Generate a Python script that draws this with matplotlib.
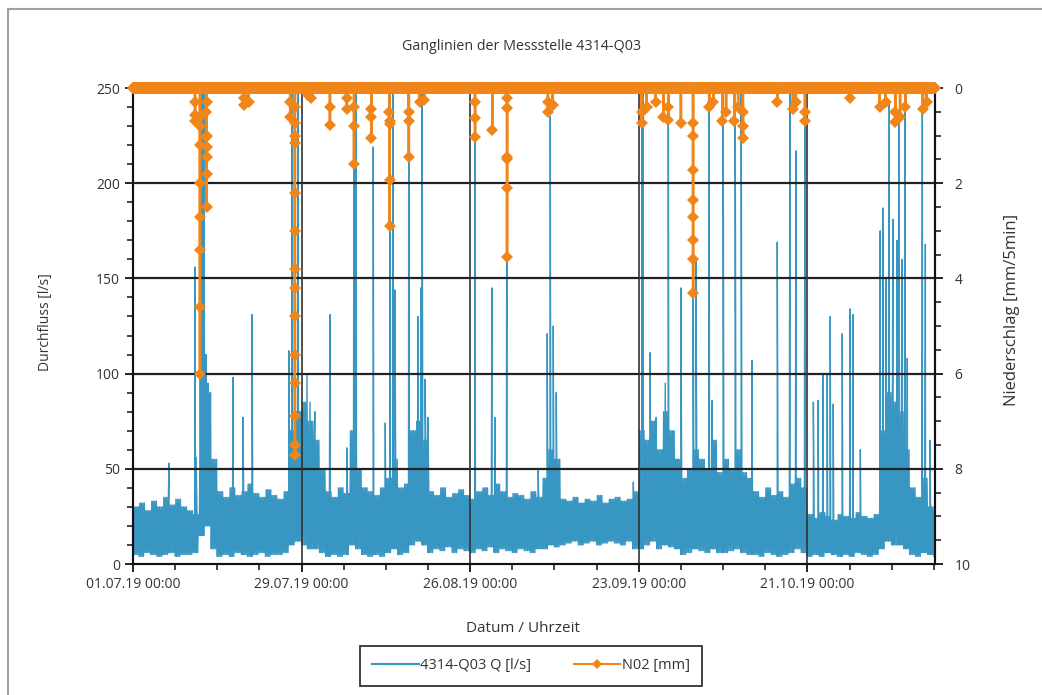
import numpy as np
import matplotlib
matplotlib.use("Agg")
import matplotlib.pyplot as plt
from matplotlib.patches import Rectangle
from matplotlib.ticker import MultipleLocator

plt.rcParams['font.family'] = ['Open Sans', 'DejaVu Sans']

# x axis in days since 01.07.19 00:00
x_ticks = [0, 28, 56, 84, 112]
x_tick_labels = ["01.07.19 00:00", "29.07.19 00:00", "26.08.19 00:00",
                 "23.09.19 00:00", "21.10.19 00:00"]
x_max = 133.2

# daily lower / upper edge of the flow band [l/s], one value per day 0..133
q_low = [5, 4, 6, 5, 4, 5, 6, 4, 5, 5, 6,
         15, 20, 8,
         4, 5, 4, 6, 5, 4, 5, 6, 4, 5, 5, 6,
         10, 12,
         10, 8, 8, 6,
         4, 5, 4, 5,
         10,
         8, 5, 4, 5, 4,
         6, 8,
         5, 6,
         10, 12, 10,
         6, 8, 7, 9, 6, 8, 7, 6, 8, 7, 9, 6, 8, 7, 6, 8, 7, 6, 8,
         8, 10, 9,
         10, 11, 12, 10, 11, 12, 10, 11, 12, 11, 10, 12, 8,
         8, 10, 12, 8, 10, 9, 8,
         5, 6, 8, 7, 6, 8, 6,
         6, 7, 8, 6, 5,
         5, 4, 6, 5, 4, 5, 6, 8, 6,
         4, 5, 4, 6, 5, 4, 5, 4, 6, 5, 4, 5,
         8, 12, 10, 10, 8,
         5, 4, 6, 5, 4]
q_high = [30, 32, 28, 33, 30, 35, 31, 34, 30, 28, 26,
          60, 90, 55,
          38, 35, 40, 36, 38, 42, 37, 35, 39, 36, 34, 38,
          70, 80,
          85, 75, 65, 50,
          38, 35, 40, 37,
          70,
          50, 40, 38, 36, 40,
          45, 55,
          40, 42,
          70, 75, 65,
          38, 36, 40, 35, 37, 39, 36, 34, 38, 40, 36, 42, 38, 35, 37, 36, 34, 38, 35,
          45, 60, 55,
          34, 33, 35, 32, 34, 33, 36, 32, 34, 35, 33, 34, 38,
          70, 65, 75, 60, 80, 70, 55,
          45, 50, 60, 55, 50, 65, 48,
          55, 50, 60, 48, 45,
          38, 35, 40, 36, 38, 35, 42, 45, 40,
          26, 24, 27, 25, 23, 26, 25, 24, 27, 25, 24, 26,
          70, 90, 85, 80, 60,
          40, 35, 45, 30, 28]

# single flow peaks [day, l/s]
spike_day = [5.98, 10.3, 10.5, 11.13, 11.46, 11.8, 12.13, 12.46, 12.8, 16.6,
             18.27, 19.77, 25.9, 26.4, 26.9, 27.4, 28.9, 29.4, 30.2, 32.7,
             35.5, 36.7, 37.0, 39.9, 41.9, 42.7, 43.2, 43.5, 45.8, 47.3,
             47.8, 48.0, 48.5, 49.0, 56.8, 59.6, 60.1, 62.1, 67.3, 68.8,
             69.3, 69.8, 70.3, 83.1, 84.5, 84.7, 85.9, 86.9, 88.4, 88.9,
             90.4, 91.0, 93.0, 93.5, 95.7, 96.2, 98.0, 100.0, 101.0, 102.8,
             107.0, 109.1, 110.1, 111.6, 113.0, 113.8, 114.6, 115.3, 115.8, 116.3,
             117.8, 119.1, 119.6, 120.8, 124.1, 124.6, 125.1, 125.6, 126.2, 126.9,
             127.2, 127.7, 128.2, 128.6, 131.1, 131.6, 132.4]
spike_q = [53, 156, 56, 280, 280, 260, 110, 95, 75, 98,
           77, 131, 112, 280, 280, 280, 100, 85, 80, 131,
           61, 280, 280, 219, 74, 245, 280, 144, 280, 130,
           145, 280, 97, 77, 280, 145, 77, 250, 49, 121,
           235, 125, 90, 43, 280, 280, 111, 77, 95, 280,
           54, 145, 212, 160, 280, 86, 280, 280, 280, 107,
           169, 280, 217, 280, 85, 86, 100, 100, 130, 84,
           121, 134, 131, 60, 175, 187, 150, 242, 181, 170,
           237, 160, 280, 108, 280, 168, 65]

# rain events: start day and consecutive 5-min values [mm]
rain_start = [10.3, 11.1, 12.2, 18.4, 19.2, 26.1, 26.85, 29.0, 29.5, 32.7,
              35.5, 36.7, 39.6, 42.6, 45.8, 47.6, 48.4, 56.8, 59.7, 62.1,
              68.9, 69.7, 84.5, 85.3, 86.8, 88.1, 88.9, 91.0, 93.0, 95.7,
              96.4, 97.9, 98.5, 99.9, 100.5, 101.3, 107.0, 109.6, 110.1, 111.6,
              119.1, 124.0, 125.0, 126.6, 127.4, 128.3, 131.2, 131.8]
rain_mm = [[0.3, 0.7, 0.57],
           [0.6, 1.2, 2.7, 3.4, 4.6, 6.0, 2.0, 0.8],
           [0.5, 1.03, 1.24, 1.45, 1.8, 2.5, 1.0, 0.3],
           [0.2, 0.35],
           [0.3],
           [0.3, 0.6],
           [0.4, 0.74, 1.15, 2.2, 3.8, 4.2, 4.8, 5.6, 6.2, 6.9, 7.5, 7.7, 3.0, 1.0],
           [0.15],
           [0.2],
           [0.4, 0.78],
           [0.2, 0.45],
           [0.4, 1.6, 0.8],
           [0.45, 1.05, 0.6],
           [0.5, 0.7, 1.93, 2.9, 0.75],
           [0.5, 0.7, 1.45],
           [0.3],
           [0.25],
           [0.3, 0.63, 1.03],
           [0.88],
           [0.2, 0.42, 1.45, 1.5, 2.1, 3.55],
           [0.3, 0.5],
           [0.35],
           [0.5, 0.74],
           [0.4],
           [0.3],
           [0.6],
           [0.67, 0.4],
           [0.74],
           [0.74, 1.72, 2.35, 2.7, 3.2, 3.6, 4.3, 1.0],
           [0.4],
           [0.3],
           [0.7],
           [0.5],
           [0.7],
           [0.4],
           [0.5, 1.05, 0.8],
           [0.3],
           [0.45],
           [0.3],
           [0.7, 0.5],
           [0.2],
           [0.4],
           [0.3],
           [0.5, 0.72],
           [0.6],
           [0.4],
           [0.45],
           [0.3]]

blue = "#3896c2"
orange = "#f0861a"

# flow series: band between daily low and high, plus the peaks
steps = 8
t_base, q_base = [], []
for d in range(len(q_low)):
    for k in range(steps):
        t = d + k / steps
        if t > x_max:
            break
        t_base.append(t)
        q_base.append(q_low[d] if k % 2 == 0 else q_high[d])
t_q = np.array(t_base + spike_day)
v_q = np.array(q_base + spike_q, dtype=float)
order = np.argsort(t_q, kind="stable")
t_q, v_q = t_q[order], v_q[order]

# rain series: zero between events
dt = 0.004
t_r, v_r = [], []
for s, vals in zip(rain_start, rain_mm):
    for i, v in enumerate(vals):
        t_r.append(s + i * dt)
        v_r.append(v)
grid = np.arange(0, x_max, 1 / 24)
keep = np.ones(len(grid), bool)
for s, vals in zip(rain_start, rain_mm):
    keep &= ~((grid > s - 0.01) & (grid < s + len(vals) * dt + 0.01))
t_n = np.concatenate([grid[keep], t_r])
v_n = np.concatenate([np.zeros(keep.sum()), v_r])
order = np.argsort(t_n)
t_n, v_n = t_n[order], v_n[order]

fig = plt.figure(figsize=(10.42, 6.95), dpi=100)
ax = fig.add_axes([133 / 1042, 1 - 564 / 695, (935 - 133) / 1042, (564 - 88) / 695])
ax2 = ax.twinx()

l1, = ax.plot(t_q, v_q, color=blue, lw=1.0, zorder=2)

for y in [50, 100, 150, 200]:
    ax.axhline(y, color="#222222", lw=1.6, zorder=3)
for x in x_ticks[1:]:
    ax.axvline(x, color="#333333", lw=1.2, zorder=3)

l2, = ax2.plot(t_n, v_n, color=orange, lw=1.8, marker="D", markersize=6.5,
               markeredgewidth=0, clip_on=False, zorder=4)

ax.set_xlim(0, x_max)
ax.set_ylim(0, 250)
ax2.set_ylim(10, 0)

ax.set_xticks(x_ticks)
ax.set_xticklabels(x_tick_labels)
ax.xaxis.set_minor_locator(MultipleLocator(7))
ax.yaxis.set_major_locator(MultipleLocator(50))
ax.yaxis.set_minor_locator(MultipleLocator(10))
ax2.yaxis.set_major_locator(MultipleLocator(2))
ax2.yaxis.set_minor_locator(MultipleLocator(0.5))

for a in (ax, ax2):
    a.spines["top"].set_visible(False)
    for side in ["left", "right", "bottom"]:
        a.spines[side].set_color("#111111")
        a.spines[side].set_linewidth(1.5)
    a.tick_params(which="major", length=6, width=1.3, color="#111111",
                  labelsize=10, labelcolor="#333333")
    a.tick_params(which="minor", length=4, width=1.1, color="#111111")
ax.tick_params(axis="x", which="major", pad=3)
ax2.tick_params(axis="y", which="major", pad=8)

fig.text(522 / 1042, 1 - 47 / 695, "Ganglinien der Messstelle 4314-Q03",
         ha="center", va="center", fontsize=10.3, color="#333333")
fig.text(523 / 1042, 1 - 628 / 695, "Datum / Uhrzeit",
         ha="center", va="center", fontsize=11, color="#333333")
fig.text(45 / 1042, 1 - 322 / 695, "Durchfluss [l/s]", rotation=90,
         ha="center", va="center", fontsize=10, color="#333333")
fig.text(1012 / 1042, 1 - 310 / 695, "Niederschlag [mm/5min]", rotation=90,
         ha="center", va="center", fontsize=12, color="#333333")

leg = fig.legend([l1, l2], ["4314-Q03 Q [l/s]", "N02 [mm]"], loc="center",
                 bbox_to_anchor=(531 / 1042, 1 - 666 / 695), ncol=2,
                 fancybox=False, edgecolor="#333333", framealpha=1,
                 fontsize=10.5, handlelength=3.2, columnspacing=2.9,
                 borderpad=0.85, handletextpad=0.1, numpoints=1,
                 labelcolor="#333333", borderaxespad=0)
leg.get_frame().set_linewidth(1.3)
leg.legend_handles[0].set_linewidth(1.5)
leg.legend_handles[1].set_linewidth(1.5)
leg.legend_handles[1].set_markersize(5)

fig.patches.append(Rectangle((8 / 1042, -0.1), 1.2, 1.1 - 9 / 695,
                             transform=fig.transFigure, fill=False,
                             edgecolor="#a0a0a0", lw=1.5))

fig.savefig("out.png", dpi=100)
